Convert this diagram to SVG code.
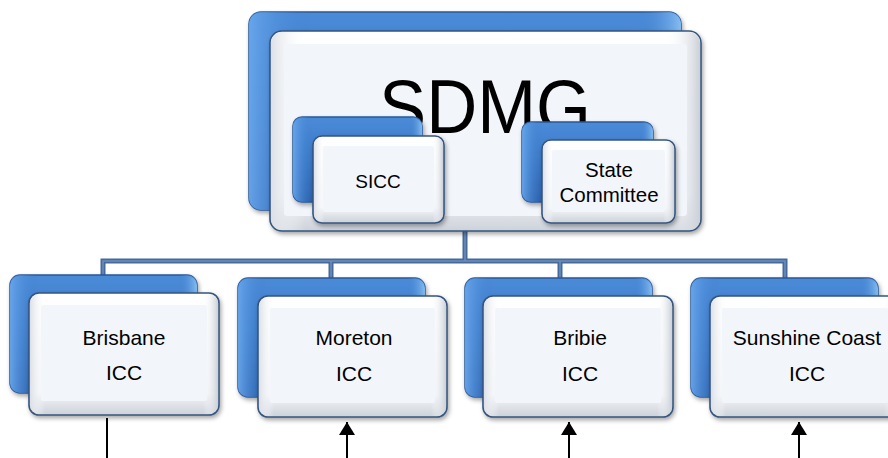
<svg xmlns="http://www.w3.org/2000/svg" width="888" height="458" viewBox="0 0 888 458">
  <defs>
    <linearGradient id="blueFill" x1="0" y1="0" x2="0" y2="1">
      <stop offset="0" stop-color="#4a8bd8"/>
      <stop offset="0.5" stop-color="#3a78c6"/>
      <stop offset="1" stop-color="#2c62ad"/>
    </linearGradient>
    <linearGradient id="blueEdge" x1="0" y1="0" x2="1" y2="0">
      <stop offset="0" stop-color="#6aa8ee" stop-opacity="0.9"/>
      <stop offset="0.15" stop-color="#3d7bc9" stop-opacity="0"/>
      <stop offset="0.9" stop-color="#3d7bc9" stop-opacity="0"/>
      <stop offset="1" stop-color="#8cc4f6" stop-opacity="0.9"/>
    </linearGradient>
    <linearGradient id="frameFill" x1="0" y1="0" x2="0" y2="1">
      <stop offset="0" stop-color="#ffffff"/>
      <stop offset="0.82" stop-color="#f4f6f9"/>
      <stop offset="1" stop-color="#cdd2d9"/>
    </linearGradient>
    <linearGradient id="frameSide" x1="0" y1="0" x2="1" y2="0">
      <stop offset="0" stop-color="#dce0e6"/>
      <stop offset="0.08" stop-color="#ffffff" stop-opacity="0"/>
      <stop offset="0.92" stop-color="#ffffff" stop-opacity="0"/>
      <stop offset="1" stop-color="#cbd0d7"/>
    </linearGradient>
    <filter id="shadow" x="-10%" y="-10%" width="125%" height="130%">
      <feDropShadow dx="1.5" dy="2.5" stdDeviation="2" flood-color="#000" flood-opacity="0.35"/>
    </filter>
    <marker id="arrowUp" viewBox="0 0 13 16" refX="13" refY="8" markerWidth="13" markerHeight="16" orient="auto" markerUnits="userSpaceOnUse">
      <path d="M0,0 L13,8 L0,16 z" fill="#000"/>
    </marker>
    <style>
      .back { fill: url(#blueFill); stroke: #2a5897; stroke-width: 1.5; filter: url(#shadow); }
      .backHi { fill: url(#blueEdge); }
      .front { fill: url(#frameFill); stroke: #34557f; stroke-width: 1.6; filter: url(#shadow); }
      .frontSide { fill: url(#frameSide); }
      .inner { fill: #f2f5fa; }
      .label { font-family: "Liberation Sans", Arial, sans-serif; fill: #000; text-anchor: middle; }
      .big { font-size: 76px; }
      .small { font-size: 19px; }
      .sub { font-size: 20.5px; }
      .mid { font-size: 21px; }
      .conn { fill: none; stroke: #46699b; stroke-width: 5; }
      .connIn { fill: none; stroke: #6e8fbd; stroke-width: 1.5; }
      .arrow { fill: none; stroke: #000; stroke-width: 2; }
    </style>
  </defs>

  <!-- tree connectors -->
  <g id="connectors">
    <path class="conn" d="M465,230 V261 M103,276 V261 H785 V278 M331,261 V279 M560,261 V279"/>
    <path class="connIn" d="M465,230 V261 M103,276 V261 H785 V278 M331,261 V279 M560,261 V279"/>
    <line class="arrow" x1="107" y1="418" x2="107" y2="458"/>
    <line class="arrow" x1="347" y1="458" x2="347" y2="422" marker-end="url(#arrowUp)"/>
    <line class="arrow" x1="569" y1="458" x2="569" y2="422" marker-end="url(#arrowUp)"/>
    <line class="arrow" x1="799" y1="458" x2="799" y2="422" marker-end="url(#arrowUp)"/>
  </g>

  <!-- top group -->
  <g id="sdmg">
    <rect class="back" x="249" y="12" width="432" height="198" rx="12"/>
    <rect class="backHi" x="249" y="12" width="432" height="198" rx="12"/>
    <rect class="front" x="270" y="31" width="431" height="200" rx="12"/>
    <rect class="frontSide" x="271" y="32" width="429" height="198" rx="11"/>
    <rect class="inner" x="284" y="44" width="403" height="172" rx="3"/>
    <text class="label big" x="485" y="133" textLength="212" lengthAdjust="spacingAndGlyphs">SDMG</text>
  </g>

  <g id="sicc">
    <rect class="back" x="293" y="117" width="129" height="85" rx="9"/>
    <rect class="backHi" x="293" y="117" width="129" height="85" rx="9"/>
    <rect class="front" x="313" y="136" width="131" height="87" rx="9"/>
    <rect class="frontSide" x="314" y="137" width="129" height="85" rx="8"/>
    <rect class="inner" x="323" y="146" width="111" height="66" rx="2"/>
    <text class="label small" x="378" y="188">SICC</text>
  </g>

  <g id="state-committee">
    <rect class="back" x="522" y="122" width="131" height="80" rx="9"/>
    <rect class="backHi" x="522" y="122" width="131" height="80" rx="9"/>
    <rect class="front" x="542" y="140" width="133" height="83" rx="9"/>
    <rect class="frontSide" x="543" y="141" width="131" height="81" rx="8"/>
    <rect class="inner" x="552" y="150" width="113" height="62" rx="2"/>
    <text class="label sub" x="609" y="177">State</text>
    <text class="label sub" x="609" y="202">Committee</text>
  </g>

  <!-- ICC row -->
  <g id="brisbane">
    <rect class="back" x="10" y="275" width="187" height="118" rx="10"/>
    <rect class="backHi" x="10" y="275" width="187" height="118" rx="10"/>
    <rect class="front" x="29" y="293" width="190" height="122" rx="10"/>
    <rect class="frontSide" x="30" y="294" width="188" height="120" rx="9"/>
    <rect class="inner" x="41" y="305" width="166" height="96" rx="2"/>
    <text class="label mid" x="124" y="345">Brisbane</text>
    <text class="label mid" x="124" y="380">ICC</text>
  </g>

  <g id="moreton">
    <rect class="back" x="238" y="278" width="187" height="119" rx="10"/>
    <rect class="backHi" x="238" y="278" width="187" height="119" rx="10"/>
    <rect class="front" x="258" y="296" width="189" height="121" rx="10"/>
    <rect class="frontSide" x="259" y="297" width="187" height="119" rx="9"/>
    <rect class="inner" x="270" y="308" width="165" height="95" rx="2"/>
    <text class="label mid" x="354" y="345">Moreton</text>
    <text class="label mid" x="354" y="381">ICC</text>
  </g>

  <g id="bribie">
    <rect class="back" x="465" y="278" width="187" height="119" rx="10"/>
    <rect class="backHi" x="465" y="278" width="187" height="119" rx="10"/>
    <rect class="front" x="483" y="296" width="190" height="121" rx="10"/>
    <rect class="frontSide" x="484" y="297" width="188" height="119" rx="9"/>
    <rect class="inner" x="495" y="308" width="166" height="95" rx="2"/>
    <text class="label mid" x="580" y="345">Bribie</text>
    <text class="label mid" x="580" y="381">ICC</text>
  </g>

  <g id="sunshine-coast">
    <rect class="back" x="691" y="278" width="187" height="119" rx="10"/>
    <rect class="backHi" x="691" y="278" width="187" height="119" rx="10"/>
    <rect class="front" x="710" y="296" width="190" height="121" rx="10"/>
    <rect class="frontSide" x="711" y="297" width="188" height="119" rx="9"/>
    <rect class="inner" x="722" y="308" width="166" height="95" rx="2"/>
    <text class="label mid" x="807" y="345">Sunshine Coast</text>
    <text class="label mid" x="807" y="381">ICC</text>
  </g>
</svg>
